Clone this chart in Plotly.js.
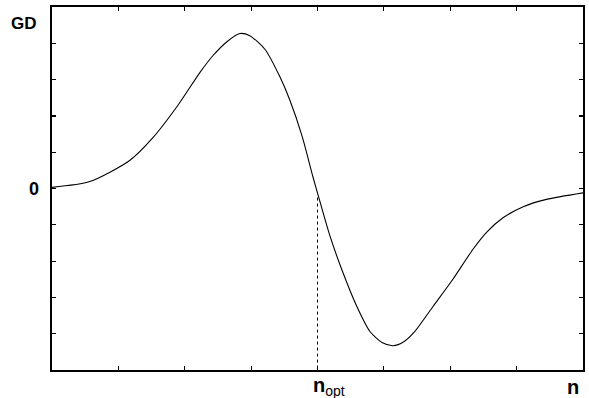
<!DOCTYPE html>
<html>
<head>
<meta charset="utf-8">
<script src="https://cdn.plot.ly/plotly-3.0.1.min.js"></script>
<style>html,body{margin:0;padding:0;background:#fff;}#plot{width:589px;height:398px;}</style>
</head>
<body>
<div id="plot"></div>
<script>
// Curve GD(n) (axis units: x 0..8, y -5..5)
const curveX = [0, 0.57, 1.17, 1.52, 1.9, 2.23, 2.42, 2.64, 2.83, 2.98, 3.21, 3.43, 3.58, 3.77, 3.93, 4.02, 4.19, 4.38, 4.6, 4.79, 4.98, 5.14, 5.3, 5.46, 5.74, 6.04, 6.34, 6.55, 6.8, 7.1, 7.45, 8];
const curveY = [0.03, 0.19, 0.77, 1.4, 2.3, 3.2, 3.65, 4.05, 4.27, 4.21, 3.83, 3.09, 2.45, 1.43, 0.33, -0.25, -1.32, -2.3, -3.28, -3.94, -4.25, -4.33, -4.22, -3.95, -3.25, -2.5, -1.68, -1.2, -0.8, -0.5, -0.3, -0.12];
// dotted marker at n_opt
const optX = [4, 4];
const optY = [-0.25, -5];
// axis ticks
const xTicks = [0, 1, 2, 3, 4, 5, 6, 7, 8];
const yTicks = [-5, -4, -3, -2, -1, 0, 1, 2, 3, 4, 5];

const traces = [
  {x: curveX, y: curveY, type: 'scatter', mode: 'lines', line: {color: '#000', width: 1.1, shape: 'spline', smoothing: 0.7}, hoverinfo: 'skip'},
  {x: optX, y: optY, type: 'scatter', mode: 'lines', line: {color: '#000', width: 1, dash: 'dot'}, hoverinfo: 'skip'}
];

const axisCommon = {
  showgrid: false, zeroline: false, showline: true, linecolor: '#000', linewidth: 1.6,
  mirror: 'ticks', ticks: 'inside', ticklen: 4, tickwidth: 1.2, tickcolor: '#000', fixedrange: true,
  showticklabels: false
};

const layout = {
  width: 589, height: 398,
  margin: {l: 52, r: 6, t: 7, b: 28},
  paper_bgcolor: '#fff', plot_bgcolor: '#fff',
  showlegend: false,
  font: {family: 'Liberation Sans, Arial, sans-serif', color: '#000'},
  xaxis: Object.assign({}, axisCommon, {range: [0, 8], tickvals: xTicks}),
  yaxis: Object.assign({}, axisCommon, {range: [-5, 5], tickvals: yTicks}),
  annotations: [
    {xref: 'paper', yref: 'paper', x: -0.052, y: 0.955, xanchor: 'center', yanchor: 'middle', showarrow: false,
     text: '<b>GD</b>', font: {size: 17, color: '#000'}},
    {xref: 'paper', yref: 'y', x: -0.034, y: 0, xanchor: 'center', yanchor: 'middle', showarrow: false,
     text: '<b>0</b>', font: {size: 18, color: '#000'}},
    {xref: 'x', yref: 'paper', x: 4, y: -0.005, xanchor: 'left', yanchor: 'top', xshift: -7, showarrow: false,
     text: '<b>n</b><sub>opt</sub>', font: {size: 20, color: '#000'}},
    {xref: 'x', yref: 'paper', x: 8, y: -0.01, xanchor: 'right', yanchor: 'top', xshift: -2, showarrow: false,
     text: '<b>n</b>', font: {size: 20, color: '#000'}}
  ]
};

Plotly.newPlot('plot', traces, layout, {displayModeBar: false, staticPlot: true});
</script>
</body>
</html>
